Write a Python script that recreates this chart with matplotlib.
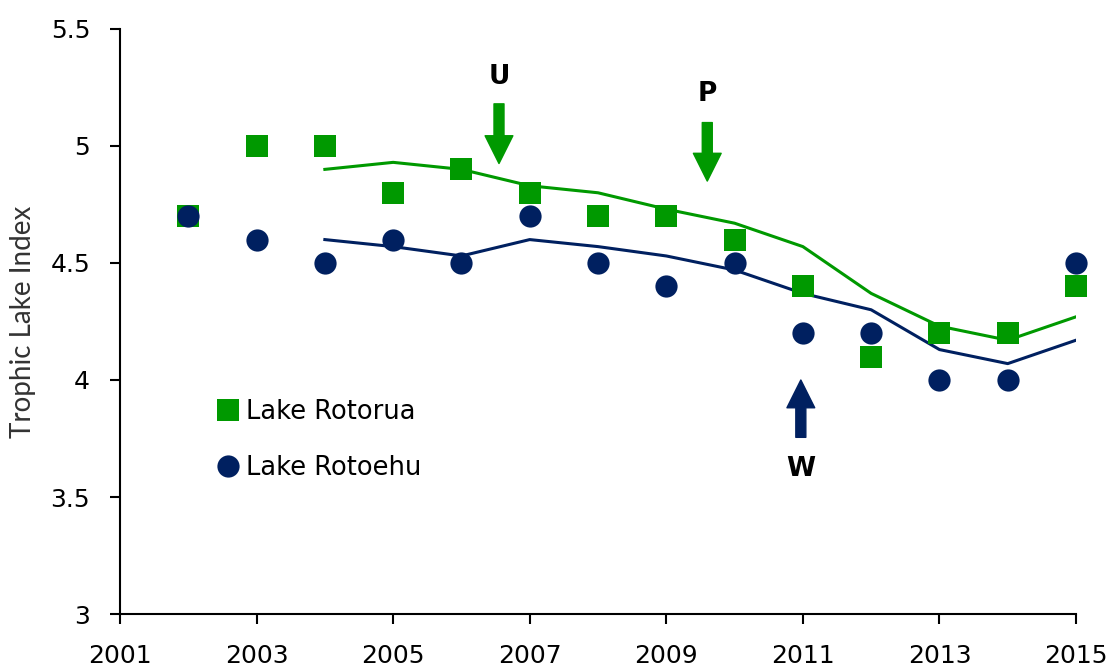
import matplotlib.pyplot as plt

# trophic lake index, annual values
years = [2002, 2003, 2004, 2005, 2006, 2007, 2008, 2009, 2010, 2011, 2012, 2013, 2014, 2015]
rotorua = [4.7, 5.0, 5.0, 4.8, 4.9, 4.8, 4.7, 4.7, 4.6, 4.4, 4.1, 4.2, 4.2, 4.4]
rotoehu = [4.7, 4.6, 4.5, 4.6, 4.5, 4.7, 4.5, 4.4, 4.5, 4.2, 4.2, 4.0, 4.0, 4.5]

# smoothed lines
lineYears = [2004, 2005, 2006, 2007, 2008, 2009, 2010, 2011, 2012, 2013, 2014, 2015]
rotoruaLine = [4.90, 4.93, 4.90, 4.83, 4.80, 4.73, 4.67, 4.57, 4.37, 4.23, 4.17, 4.27]
rotoehuLine = [4.60, 4.57, 4.53, 4.60, 4.57, 4.53, 4.47, 4.37, 4.30, 4.13, 4.07, 4.17]

# event arrows: label, x, start y, tip y, label y
events = [('U', 2006.55, 5.18, 4.925, 5.295),
          ('P', 2009.6, 5.10, 4.85, 5.22),
          ('W', 2010.97, 3.755, 4.00, 3.62)]

GREEN = '#009900'
NAVY = '#002060'

plt.rcParams['font.family'] = ['DejaVu Sans']

fig = plt.figure(figsize=(11.1, 6.69), dpi=100, facecolor='w')
ax = fig.add_axes([0.1081, 0.0822, 0.9694 - 0.1081, 0.9567 - 0.0822])

ax.plot(lineYears, rotoruaLine, '-', color=GREEN, lw=2.2, zorder=2)
ax.plot(lineYears, rotoehuLine, '-', color=NAVY, lw=2.2, zorder=2)
ax.plot(years, rotorua, 's', color=GREEN, ms=15.5, mew=0, label='Lake Rotorua', zorder=3, clip_on=False)
ax.plot(years, rotoehu, 'o', color=NAVY, ms=16, mew=0, label='Lake Rotoehu', zorder=4, clip_on=False)

for lab, x, y0, y1, ylab in events:
    col = NAVY if lab == 'W' else GREEN
    ax.annotate('', xy=(x, y1), xytext=(x, y0),
                arrowprops=dict(arrowstyle='simple,head_width=1.0,head_length=1.0,tail_width=0.36',
                                color=col, mutation_scale=20, shrinkA=0, shrinkB=0))
    ax.text(x, ylab, lab, ha='center', va='center', fontsize=19, fontweight='bold', color='black')

ax.set_xlim(2001, 2015)
ax.set_ylim(3, 5.5)
ax.set_xticks(range(2001, 2016, 2))
ax.set_yticks([3, 3.5, 4, 4.5, 5, 5.5])
ax.set_yticklabels(['3', '3.5', '4', '4.5', '5', '5.5'])
ax.tick_params(labelsize=18, width=1.5, length=7.5, colors='black', pad=14)
ax.spines['top'].set_visible(False)
ax.spines['right'].set_visible(False)
ax.spines['left'].set_linewidth(1.5)
ax.spines['bottom'].set_linewidth(1.5)
ax.set_ylabel('Trophic Lake Index', fontsize=20, family='Lato', color='#333333')
ax.yaxis.set_label_coords(-0.088, 0.5)

ax.legend(loc='upper left', bbox_to_anchor=(0.09, 0.385), frameon=False, fontsize=18.5,
          handlelength=0.9, handletextpad=0.25, labelspacing=1.15, borderaxespad=0)

plt.savefig('out.png', dpi=100)
